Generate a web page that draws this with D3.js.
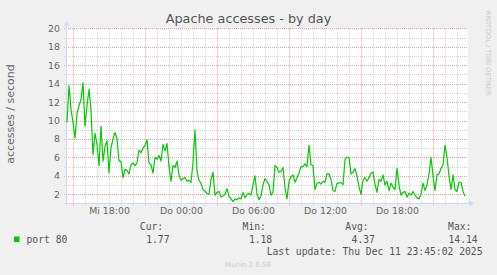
<!DOCTYPE html>
<html>
<head>
<meta charset="utf-8">
<script src="https://cdnjs.cloudflare.com/ajax/libs/d3/7.8.5/d3.min.js"></script>
<style>
body { margin: 0; background: #f0f0f0; }
svg { display: block; }
</style>
</head>
<body>
<script>
var startTime = Date.UTC(2025, 11, 10, 14, 31);
var stepMinutes = 10;
var accesses = [
    9.8, 13.8, 11.2, 9.8, 8.1, 10.8, 11.6, 12.3, 14.1, 9.4,
    11.6, 13.4, 11.2, 6.3, 8.6, 7.4, 5.1, 9.4, 5.6, 7.2,
    7.8, 4.3, 7.0, 8.0, 8.7, 8.0, 5.6, 5.6, 3.8, 4.7,
    4.6, 4.2, 5.2, 5.4, 5.1, 5.4, 6.8, 6.5, 7.0, 7.3,
    7.9, 5.4, 5.2, 4.3, 6.0, 5.8, 6.2, 5.6, 7.4, 6.7,
    7.5, 5.0, 3.4, 5.1, 4.9, 5.6, 4.1, 3.5, 3.7, 3.8,
    3.4, 3.5, 3.3, 5.4, 9.0, 4.5, 3.5, 3.2, 2.5, 2.3,
    2.1, 2.0, 3.6, 4.4, 1.9, 2.2, 2.3, 1.7, 1.8, 2.0,
    2.6, 1.8, 1.5, 1.2, 1.5, 1.4, 1.6, 1.5, 2.2, 1.6,
    2.0, 2.1, 1.9, 3.0, 4.0, 2.0, 1.4, 1.8, 3.0, 3.7,
    3.4, 3.0, 1.9, 2.2, 5.1, 4.9, 4.4, 4.5, 4.9, 2.7,
    1.5, 3.4, 3.9, 4.1, 3.3, 3.8, 4.3, 5.0, 5.0, 5.3,
    5.0, 7.3, 5.2, 5.1, 2.5, 3.2, 3.3, 3.1, 3.4, 3.3,
    4.2, 4.2, 3.6, 2.4, 2.3, 3.2, 3.2, 3.3, 3.0, 5.8,
    6.0, 6.0, 4.2, 4.4, 4.8, 4.0, 2.8, 2.0, 3.5, 3.8,
    3.4, 3.8, 4.3, 4.4, 3.1, 2.2, 3.6, 3.4, 4.1, 3.0,
    3.4, 2.4, 3.2, 2.8, 2.5, 4.8, 3.0, 1.9, 2.2, 2.3,
    1.7, 2.1, 1.9, 2.3, 1.9, 1.6, 1.5, 2.0, 3.2, 2.4,
    3.0, 4.2, 6.0, 4.0, 2.4, 4.1, 4.2, 4.8, 5.2, 7.3,
    6.0, 4.0, 2.5, 4.1, 2.5, 2.3, 3.3, 3.3, 2.3, 1.77
];
var yTicks = [2, 4, 6, 8, 10, 12, 14, 16, 18, 20];
var xLabels = ["Mi 18:00", "Do 00:00", "Do 06:00", "Do 12:00", "Do 18:00"];
var xLabelHours = [3.5, 9.5, 15.5, 21.5, 27.5]; // hours after startTime
var statNames = ["Cur:", "Min:", "Avg:", "Max:"];
var statValues = ["1.77", "1.18", "4.37", "14.14"];
var seriesName = "port 80";

var width = 497, height = 275;
var plotLeft = 67, plotRight = 467, plotTop = 28.4, plotBottom = 202.7;

var data = accesses.map(function(v, i) {
    return { date: new Date(startTime + i * stepMinutes * 60000), value: v };
});

var x = d3.scaleUtc()
    .domain([new Date(startTime), new Date(startTime + 400 * 5 * 60000)])
    .range([plotLeft, plotRight]);
var y = d3.scaleLinear()
    .domain([1.08, 20])
    .range([plotBottom, plotTop]);

var svg = d3.select('body').append('svg')
    .attr('width', width)
    .attr('height', height);

svg.append('rect').attr('width', width).attr('height', height).attr('fill', '#f0f0f0');
svg.append('rect')
    .attr('x', plotLeft).attr('y', plotTop)
    .attr('width', plotRight - plotLeft + 1).attr('height', plotBottom - plotTop)
    .attr('fill', '#ffffff');

// grid
var hours = x.ticks(d3.utcHour.every(1));
var isMajor = function(d) { return d.getUTCHours() % 6 === 3; };
var grid = svg.append('g');
grid.selectAll('.vgrid').data(hours).enter().append('line')
    .attr('x1', function(d) { return Math.round(x(d)) + 0.5; })
    .attr('x2', function(d) { return Math.round(x(d)) + 0.5; })
    .attr('y1', plotTop).attr('y2', plotBottom + 3)
    .attr('stroke', function(d) { return isMajor(d) ? '#f0a0a0' : '#d4d4d4'; })
    .attr('stroke-dasharray', '1,1');
var yAll = d3.range(2, 21, 1);
grid.selectAll('.hgrid').data(yAll).enter().append('line')
    .attr('x1', plotLeft - 3).attr('x2', plotRight + 1)
    .attr('y1', function(d) { return Math.round(y(d)) + 0.5; })
    .attr('y2', function(d) { return Math.round(y(d)) + 0.5; })
    .attr('stroke', function(d) { return d % 2 === 0 ? '#f0a0a0' : '#d4d4d4'; })
    .attr('stroke-dasharray', '1,1');

// axis lines + arrows
var axisColor = '#cfd6f8';
svg.append('line').attr('x1', plotLeft - 3).attr('x2', plotRight + 4)
    .attr('y1', Math.round(plotBottom) + 0.5).attr('y2', Math.round(plotBottom) + 0.5)
    .attr('stroke', axisColor);
svg.append('path')
    .attr('d', 'M' + (plotRight + 2) + ',' + (plotBottom - 2.5) + 'L' + (plotRight + 7) + ',' + (plotBottom + 0.5) + 'L' + (plotRight + 2) + ',' + (plotBottom + 3.5) + 'Z')
    .attr('fill', axisColor);
svg.append('line').attr('x1', plotLeft - 0.5).attr('x2', plotLeft - 0.5)
    .attr('y1', plotBottom + 3).attr('y2', plotTop - 5)
    .attr('stroke', axisColor);
svg.append('path')
    .attr('d', 'M' + (plotLeft - 3) + ',' + (plotTop - 2.5) + 'L' + (plotLeft - 0.5) + ',' + (plotTop - 7.5) + 'L' + (plotLeft + 2) + ',' + (plotTop - 2.5) + 'Z')
    .attr('fill', axisColor);

// y axis labels
var yAxis = d3.axisLeft(y).tickValues(yTicks).tickSize(0).tickPadding(7);
var gy = svg.append('g').attr('transform', 'translate(' + plotLeft + ',0)').call(yAxis);
gy.select('.domain').remove();
gy.selectAll('text')
    .attr('font-family', 'DejaVu Sans').attr('font-size', 9.4).attr('fill', '#666');

// x axis labels
var xAxis = d3.axisBottom(x)
    .tickValues(xLabelHours.map(function(h) { return new Date(startTime + h * 3600000); }))
    .tickFormat(function(d, i) { return xLabels[i]; })
    .tickSize(0).tickPadding(5);
var gx = svg.append('g').attr('transform', 'translate(0,' + plotBottom + ')').call(xAxis);
gx.select('.domain').remove();
gx.selectAll('text')
    .attr('font-family', 'DejaVu Sans').attr('font-size', 9.4).attr('fill', '#666');

// series
var line = d3.line()
    .x(function(d) { return x(d.date); })
    .y(function(d) { return y(d.value); });
svg.append('path')
    .attr('d', line(data))
    .attr('fill', 'none')
    .attr('stroke', '#00cc00')
    .attr('stroke-width', 1.2)
    .attr('stroke-linejoin', 'round');

// title and labels
svg.append('text')
    .attr('x', 248.5).attr('y', 23)
    .attr('text-anchor', 'middle')
    .attr('font-family', 'DejaVu Sans').attr('font-size', 12.8).attr('fill', '#555')
    .text('Apache accesses - by day');
svg.append('text')
    .attr('transform', 'translate(13.5,114) rotate(-90)')
    .attr('text-anchor', 'middle')
    .attr('font-family', 'DejaVu Sans').attr('font-size', 11).attr('fill', '#666')
    .text('accesses / second');
svg.append('text')
    .attr('transform', 'translate(485.5,53) rotate(90)')
    .attr('text-anchor', 'middle')
    .attr('font-family', 'DejaVu Sans').attr('font-size', 6.6).attr('fill', '#c8c8c8')
    .text('RRDTOOL / TOBI OETIKER');

// legend
var mono = 'DejaVu Sans Mono';
svg.append('rect').attr('x', 14).attr('y', 236.5).attr('width', 5.5).attr('height', 5.5).attr('fill', '#00cc00');
svg.append('text').attr('x', 26.5).attr('y', 242.5)
    .attr('font-family', mono).attr('font-size', 9.7).attr('fill', '#555')
    .text(seriesName);
var col = d3.scaleLinear().domain([0, 3]).range([169.5, 477.7]);
svg.selectAll('.statName').data(statNames).enter().append('text')
    .attr('x', function(d, i) { return col(i) - 6.3; }).attr('y', 229.5)
    .attr('text-anchor', 'end')
    .attr('font-family', mono).attr('font-size', 9.7).attr('fill', '#555')
    .text(function(d) { return d; });
svg.selectAll('.statValue').data(statValues).enter().append('text')
    .attr('x', function(d, i) { return col(i); }).attr('y', 242.5)
    .attr('text-anchor', 'end')
    .attr('font-family', mono).attr('font-size', 9.7).attr('fill', '#555')
    .text(function(d) { return d; });
svg.append('text').attr('x', 482.5).attr('y', 254.5)
    .attr('text-anchor', 'end')
    .attr('font-family', mono).attr('font-size', 9.7).attr('fill', '#555')
    .text('Last update: Thu Dec 11 23:45:02 2025');
svg.append('text').attr('x', 248).attr('y', 266.5)
    .attr('text-anchor', 'middle')
    .attr('font-family', 'DejaVu Sans').attr('font-size', 7).attr('fill', '#cccccc')
    .text('Munin 2.0.56');
</script>
</body>
</html>
